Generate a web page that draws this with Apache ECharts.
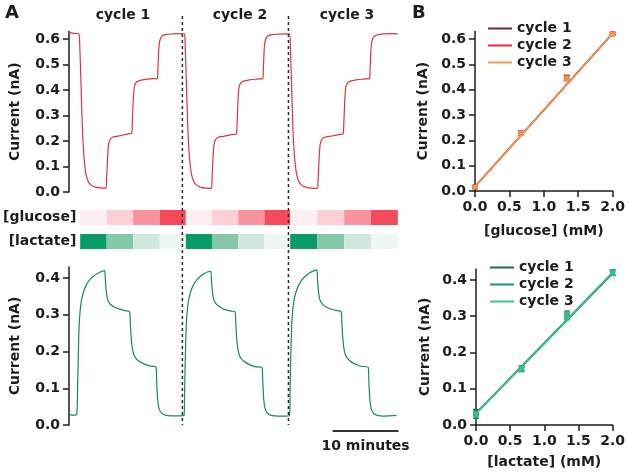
<!DOCTYPE html>
<html>
<head>
<meta charset="utf-8">
<script src="https://cdn.jsdelivr.net/npm/echarts@6/dist/echarts.min.js"></script>
<style>
  html, body { margin: 0; padding: 0; background: #fff; }
  #chart { width: 628px; height: 475px; }
</style>
</head>
<body>
<div id="chart"></div>
<script>
// ---- data ----
// panel A: time (min) vs current (nA)
var glucoseTrace = [
  [0.0,0.627],[0.5,0.623],[1.0,0.622],[1.5,0.620],[1.65,0.56],[1.8,0.44],[1.95,0.31],[2.1,0.21],[2.3,0.13],[2.55,0.075],[2.9,0.042],[3.4,0.026],[4.0,0.019],[4.8,0.016],[5.6,0.015],
  [5.7,0.05],[5.85,0.13],[6.0,0.185],[6.25,0.207],[6.6,0.215],[7.4,0.219],[8.3,0.224],[9.0,0.228],[9.5,0.229],
  [9.6,0.27],[9.75,0.36],[9.9,0.41],[10.15,0.428],[10.6,0.436],[11.5,0.441],[12.5,0.444],[13.4,0.446],
  [13.5,0.49],[13.65,0.57],[13.85,0.600],[14.2,0.613],[14.8,0.618],[15.8,0.620],[17.0,0.621],[17.5,0.620],
  [17.65,0.56],[17.8,0.44],[17.95,0.31],[18.1,0.21],[18.3,0.13],[18.55,0.075],[18.9,0.042],[19.4,0.026],[20.0,0.018],[20.8,0.015],[21.6,0.014],
  [21.7,0.05],[21.85,0.13],[22.0,0.185],[22.25,0.206],[22.6,0.214],[23.4,0.218],[24.3,0.223],[25.0,0.226],[25.4,0.228],
  [25.5,0.27],[25.65,0.36],[25.8,0.41],[26.05,0.427],[26.5,0.435],[27.4,0.440],[28.5,0.443],[29.4,0.445],
  [29.5,0.49],[29.65,0.57],[29.85,0.600],[30.2,0.612],[30.8,0.617],[31.8,0.619],[33.0,0.620],[33.45,0.620],
  [33.6,0.56],[33.75,0.44],[33.9,0.31],[34.05,0.21],[34.25,0.13],[34.5,0.075],[34.85,0.042],[35.35,0.026],[36.0,0.018],[36.8,0.015],[37.7,0.014],
  [37.8,0.05],[37.95,0.13],[38.1,0.185],[38.35,0.206],[38.7,0.214],[39.5,0.218],[40.4,0.222],[41.1,0.226],[41.6,0.228],
  [41.7,0.27],[41.85,0.36],[42.0,0.41],[42.25,0.427],[42.7,0.435],[43.6,0.440],[44.7,0.443],[45.6,0.445],
  [45.7,0.49],[45.85,0.57],[46.05,0.600],[46.4,0.612],[47.0,0.617],[48.0,0.620],[49.0,0.621],[49.9,0.620]
];
var lactateTrace = [
  [0.0,0.028],[0.6,0.027],[1.15,0.028],[1.3,0.10],[1.45,0.22],[1.6,0.29],[1.85,0.335],[2.2,0.362],[2.6,0.38],[3.1,0.394],[3.7,0.405],[4.4,0.413],[5.0,0.418],[5.4,0.42],
  [5.5,0.40],[5.65,0.365],[5.85,0.342],[6.2,0.330],[6.8,0.322],[7.6,0.316],[8.5,0.311],[9.2,0.308],
  [9.3,0.28],[9.45,0.235],[9.65,0.205],[9.95,0.187],[10.5,0.175],[11.3,0.167],[12.2,0.161],[13.2,0.157],
  [13.3,0.12],[13.45,0.07],[13.65,0.045],[14.0,0.033],[14.6,0.027],[15.5,0.025],[16.5,0.025],[17.45,0.026],
  [17.55,0.10],[17.7,0.22],[17.85,0.29],[18.1,0.335],[18.45,0.362],[18.85,0.38],[19.35,0.394],[19.95,0.405],[20.6,0.413],[21.1,0.417],[21.5,0.418],
  [21.6,0.40],[21.75,0.365],[21.95,0.342],[22.3,0.330],[22.9,0.321],[23.7,0.314],[24.6,0.310],[25.2,0.308],
  [25.3,0.28],[25.45,0.235],[25.65,0.205],[25.95,0.186],[26.5,0.174],[27.3,0.165],[28.2,0.159],[29.3,0.156],
  [29.4,0.12],[29.55,0.07],[29.75,0.045],[30.1,0.032],[30.7,0.026],[31.6,0.024],[32.6,0.024],[33.45,0.025],
  [33.55,0.10],[33.7,0.22],[33.85,0.29],[34.1,0.335],[34.45,0.362],[34.85,0.38],[35.35,0.395],[35.95,0.406],[36.6,0.415],[37.2,0.42],[37.6,0.422],
  [37.7,0.40],[37.85,0.365],[38.05,0.342],[38.4,0.330],[39.0,0.321],[39.8,0.315],[40.7,0.311],[41.3,0.309],
  [41.4,0.28],[41.55,0.235],[41.75,0.205],[42.05,0.187],[42.6,0.175],[43.4,0.166],[44.3,0.160],[45.4,0.157],
  [45.5,0.12],[45.65,0.07],[45.85,0.045],[46.2,0.032],[46.8,0.026],[47.7,0.024],[48.7,0.025],[49.7,0.026]
];
var cycleNames = ['cycle 1', 'cycle 2', 'cycle 3'];
var cycleBoundaries = [17.5, 33.45];          // dashed lines (min)
var scaleBarRange = [40, 50];                 // "10 minutes"
// concentration strips: cell edges (min) and level index 0..3 per cell
var stripEdges = [1.35, 5.4, 9.45, 13.5, 17.5, 21.5, 25.5, 29.5, 33.45, 37.6, 41.7, 45.8, 49.9];
var glucoseLevels = [0, 1, 2, 3, 0, 1, 2, 3, 0, 1, 2, 3];
var lactateLevels = [3, 2, 1, 0, 3, 2, 1, 0, 3, 2, 1, 0];
var stripRows = ['[glucose]', '[lactate]'];

// panel B: calibration, concentration (mM) vs current (nA)
var conc = [0, 0.667, 1.333, 2.0];
var glucoseMean = [[0.016, 0.230, 0.447, 0.621], [0.015, 0.228, 0.444, 0.620], [0.015, 0.229, 0.445, 0.620]];
var glucoseErr  = [[0.005, 0.005, 0.010, 0.005], [0.004, 0.005, 0.009, 0.005], [0.004, 0.004, 0.008, 0.005]];
var glucoseFit  = [[[0, 0.018], [2, 0.623]], [[0, 0.017], [2, 0.621]], [[0, 0.017], [2, 0.622]]];
var lactateMean = [[0.035, 0.156, 0.304, 0.421], [0.025, 0.153, 0.300, 0.418], [0.030, 0.155, 0.302, 0.420]];
var lactateErr  = [[0.008, 0.007, 0.010, 0.007], [0.007, 0.006, 0.010, 0.006], [0.006, 0.006, 0.009, 0.007]];
var lactateFit  = [[[0, 0.033], [2, 0.420]], [[0, 0.031], [2, 0.417]], [[0, 0.032], [2, 0.419]]];

var ticksA1 = [0, 0.1, 0.2, 0.3, 0.4, 0.5, 0.6];
var ticksA2 = [0, 0.1, 0.2, 0.3, 0.4];
var ticksConc = [0, 0.5, 1.0, 1.5, 2.0];

// ---- styles ----
var FONT = 'DejaVu Sans';
var INK = '#1e1c1d';
var glucoseColors = ['#fdeef1', '#fdd0d6', '#f8939d', '#f54a5b'];
var lactateColors = ['#eef7f2', '#cfe9de', '#84c8a9', '#0a9c68'];
var glucoseCycleColors = ['#6a2c3a', '#e52f40', '#f29a4a'];
var lactateCycleColors = ['#22694f', '#139862', '#3cc28a'];

var chart = echarts.init(document.getElementById('chart'), null, { renderer: 'canvas' });

function valueAxis (grid, min, max, ticks, name, nameGap, extra) {
  var ax = {
    type: 'value', gridIndex: grid, min: min, max: max,
    axisLine: { show: true, onZero: false, lineStyle: { color: INK, width: 1.5 } },
    axisTick: { show: true, inside: false, length: 6, customValues: ticks, lineStyle: { color: INK, width: 1.5 } },
    axisLabel: { show: true, customValues: ticks, margin: 9, color: INK, fontFamily: FONT, fontWeight: 'bold', fontSize: 14,
      formatter: function (v) { return v.toFixed(1) } },
    splitLine: { show: false },
    name: name, nameLocation: 'middle', nameGap: nameGap,
    nameTextStyle: { color: INK, fontFamily: FONT, fontWeight: 'bold', fontSize: 14 }
  };
  return Object.assign(ax, extra || {});
}
function hiddenAxis (grid, min, max) {
  return { type: 'value', gridIndex: grid, min: min, max: max, show: false, splitLine: { show: false } };
}

var grids = [
  { left: 66, top: 31.4, width: 332.5, height: 160.6 },   // A glucose trace
  { left: 66, top: 267, width: 332.5, height: 158 },      // A lactate trace
  { left: 66, top: 205.5, width: 332.5, height: 48 },     // concentration strips
  { left: 66, top: 16, width: 332.5, height: 409 },       // dashed overlay
  { left: 475, top: 31.4, width: 142, height: 159.6 },    // B glucose
  { left: 476, top: 269, width: 141, height: 156 }        // B lactate
];

var xAxes = [
  hiddenAxis(0, 0, 50), hiddenAxis(1, 0, 50), hiddenAxis(2, 0, 50), hiddenAxis(3, 0, 50),
  valueAxis(4, 0, 2, ticksConc, '[glucose] (mM)', 33, { interval: 0.5 }),
  valueAxis(5, 0, 2, ticksConc, '[lactate] (mM)', 30, { interval: 0.5 })
];
xAxes[4].axisLabel.margin = 9;
xAxes[5].axisLabel.margin = 9;

var yAxes = [
  valueAxis(0, 0, 0.63, ticksA1, 'Current (nA)', 47),
  valueAxis(1, 0, 0.43, ticksA2, 'Current (nA)', 47),
  { type: 'category', gridIndex: 2, data: stripRows, inverse: true, offset: -7,
    axisLine: { show: false }, axisTick: { show: false }, splitLine: { show: false },
    axisLabel: { margin: 2, color: INK, fontFamily: FONT, fontWeight: 'bold', fontSize: 14 } },
  hiddenAxis(3, 0, 1),
  valueAxis(4, 0, 0.63, ticksA1, 'Current (nA)', 45),
  valueAxis(5, 0, 0.43, ticksA2, 'Current (nA)', 44)
];

var stripData = [];
for (var i = 0; i < glucoseLevels.length; i++) {
  stripData.push([stripEdges[i], stripEdges[i + 1], 0, glucoseLevels[i]]);
  stripData.push([stripEdges[i], stripEdges[i + 1], 1, lactateLevels[i]]);
}

var series = [
  { type: 'line', name: 'glucose trace', xAxisIndex: 0, yAxisIndex: 0, data: glucoseTrace,
    showSymbol: false, smooth: 0.3, lineStyle: { color: '#dc3443', width: 1.2 }, silent: true },
  { type: 'line', name: 'lactate trace', xAxisIndex: 1, yAxisIndex: 1, data: lactateTrace,
    showSymbol: false, smooth: 0.3, lineStyle: { color: '#178a5c', width: 1.2 }, silent: true },
  { type: 'custom', name: 'strips', xAxisIndex: 2, yAxisIndex: 2, data: stripData,
    encode: { x: [0, 1], y: 2 }, silent: true,
    renderItem: function (params, api) {
      var p0 = api.coord([api.value(0), api.value(2)]);
      var p1 = api.coord([api.value(1), api.value(2)]);
      var row = api.value(2);
      var pal = row === 0 ? glucoseColors : lactateColors;
      return { type: 'rect', shape: { x: p0[0], y: p0[1] - 7.5, width: p1[0] - p0[0], height: 15 },
        style: { fill: pal[api.value(3)] } };
    } },
  { type: 'custom', name: 'boundaries', xAxisIndex: 3, yAxisIndex: 3, data: cycleBoundaries.map(function (t) { return [t] }),
    encode: { x: 0 }, silent: true, z: 5,
    renderItem: function (params, api) {
      var a = api.coord([api.value(0), 1]);
      var b = api.coord([api.value(0), 0]);
      return { type: 'line', shape: { x1: a[0], y1: a[1], x2: b[0], y2: b[1] },
        style: { stroke: '#2a2a2a', lineWidth: 1.5, lineDash: [3, 3] } };
    } },
  { type: 'custom', name: 'scale bar', xAxisIndex: 1, yAxisIndex: 1, data: [scaleBarRange], clip: false,
    encode: { x: [0, 1] }, silent: true,
    renderItem: function (params, api) {
      var a = api.coord([api.value(0), 0]);
      var b = api.coord([api.value(1), 0]);
      return { type: 'group', children: [
        { type: 'line', shape: { x1: a[0], y1: a[1] + 6, x2: b[0], y2: b[1] + 6 }, style: { stroke: '#333', lineWidth: 2 } },
        { type: 'text', x: (a[0] + b[0]) / 2, y: a[1] + 21,
          style: { text: '10 minutes', fill: INK, font: 'bold 14px "DejaVu Sans"', align: 'center', verticalAlign: 'middle' } }
      ] };
    } }
];

function addCalib (prefix, grid, means, errs, fits, colors) {
  for (var c = 0; c < 3; c++) {
    var nm = prefix + ' ' + cycleNames[c];
    var pts = conc.map(function (x, k) { return [x, means[c][k]] });
    var bars = conc.map(function (x, k) { return [x, means[c][k] - errs[c][k], means[c][k] + errs[c][k]] });
    series.push({ type: 'line', name: nm, xAxisIndex: grid, yAxisIndex: grid, data: fits[c],
      showSymbol: false, lineStyle: { color: colors[c], width: 1.5 }, itemStyle: { color: colors[c] }, z: 2 + c });
    series.push({ type: 'custom', name: nm, xAxisIndex: grid, yAxisIndex: grid, data: bars,
      encode: { x: 0, y: [1, 2] }, z: 2 + c, itemStyle: { color: colors[c] },
      renderItem: function (col) {
        return function (params, api) {
          var lo = api.coord([api.value(0), api.value(1)]);
          var hi = api.coord([api.value(0), api.value(2)]);
          var w = 3;
          var st = { stroke: col, lineWidth: 1.3 };
          return { type: 'group', children: [
            { type: 'line', shape: { x1: lo[0], y1: lo[1], x2: hi[0], y2: hi[1] }, style: st },
            { type: 'line', shape: { x1: lo[0] - w, y1: lo[1], x2: lo[0] + w, y2: lo[1] }, style: st },
            { type: 'line', shape: { x1: hi[0] - w, y1: hi[1], x2: hi[0] + w, y2: hi[1] }, style: st }
          ] };
        };
      }(colors[c]) });
    series.push({ type: 'scatter', name: nm, xAxisIndex: grid, yAxisIndex: grid, data: pts,
      symbol: 'rect', symbolSize: 5, itemStyle: { color: colors[c], opacity: 0.85 }, z: 2 + c });
  }
}
addCalib('glucose', 4, glucoseMean, glucoseErr, glucoseFit, glucoseCycleColors);
addCalib('lactate', 5, lactateMean, lactateErr, lactateFit, lactateCycleColors);

function legend (prefix, left, top, colors) {
  return {
    orient: 'vertical', left: left, top: top, icon: 'rect', itemWidth: 24, itemHeight: 2, itemGap: 2,
    selectedMode: false,
    data: cycleNames.map(function (n, c) { return { name: prefix + ' ' + n, itemStyle: { color: colors[c] } } }),
    formatter: function (name) { return name.replace(prefix + ' ', '') },
    textStyle: { color: INK, fontFamily: FONT, fontWeight: 'bold', fontSize: 14, lineHeight: 15 }
  };
}

var titleStyle = { fill: INK, font: 'bold 14px "DejaVu Sans"', align: 'center', verticalAlign: 'middle' };
var option = {
  animation: false,
  backgroundColor: '#fff',
  grid: grids,
  xAxis: xAxes,
  yAxis: yAxes,
  legend: [legend('glucose', 483, 16, glucoseCycleColors), legend('lactate', 485, 255, lactateCycleColors)],
  series: series,
  graphic: [
    { type: 'text', left: 5, top: 4, style: { text: 'A', fill: INK, font: 'bold 18px "DejaVu Sans"' } },
    { type: 'text', left: 412, top: 4, style: { text: 'B', fill: INK, font: 'bold 18px "DejaVu Sans"' } },
    { type: 'text', x: 123, y: 15, style: Object.assign({ text: cycleNames[0] }, titleStyle) },
    { type: 'text', x: 240, y: 15, style: Object.assign({ text: cycleNames[1] }, titleStyle) },
    { type: 'text', x: 347, y: 15, style: Object.assign({ text: cycleNames[2] }, titleStyle) }
  ]
};
chart.setOption(option);
</script>
</body>
</html>
